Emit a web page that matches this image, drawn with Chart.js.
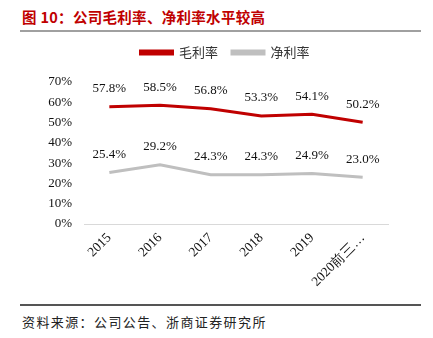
<!DOCTYPE html>
<html lang="zh">
<head>
<meta charset="UTF-8">
<title>公司毛利率、净利率水平较高</title>
<style>
    body {
        margin: 0;
        width: 433px;
        height: 338px;
        background: #fff;
        position: relative;
        overflow: hidden;
    }
    #title {
        position: absolute;
        left: 22px;
        top: 6px;
        font-family: "Noto Sans CJK SC", sans-serif;
        font-weight: bold;
        font-size: 14.5px;
        letter-spacing: 0.3px;
        color: #c00000;
        white-space: nowrap;
    }
    #rule-top {
        position: absolute;
        left: 20px;
        top: 30px;
        width: 401px;
        height: 2px;
        background: #a0a0a0;
    }
    #chart-box {
        position: absolute;
        left: 0;
        top: 38px;
        width: 433px;
        height: 262px;
    }
    #rule-bottom {
        position: absolute;
        left: 20px;
        top: 304px;
        width: 401px;
        height: 1.5px;
        background: #555;
    }
    #source {
        position: absolute;
        left: 22px;
        top: 312px;
        font-family: "Noto Sans CJK SC", sans-serif;
        font-size: 13px;
        letter-spacing: 1.4px;
        color: #222;
        white-space: nowrap;
    }
</style>
</head>
<body>
<div id="title">图 10：公司毛利率、净利率水平较高</div>
<div id="rule-top"></div>
<div id="chart-box"><canvas id="chart"></canvas></div>
<div id="rule-bottom"></div>
<div id="source">资料来源：公司公告、浙商证券研究所</div>

<script src="https://cdn.jsdelivr.net/npm/chart.js"></script>
<script>
    // 数据
    const years = ['2015', '2016', '2017', '2018', '2019', '2020前三…'];
    const grossMargin = [57.8, 58.5, 56.8, 53.3, 54.1, 50.2];
    const netMargin = [25.4, 29.2, 24.3, 24.3, 24.9, 23.0];
    const yTicks = [0, 10, 20, 30, 40, 50, 60, 70];

    const serif = '"Liberation Serif", "DejaVu Serif", serif';

    // 数据标签
    const valueLabels = {
        id: 'valueLabels',
        afterDatasetsDraw(chart) {
            const c = chart.ctx;
            c.save();
            c.font = '13px ' + serif;
            c.fillStyle = '#111';
            c.textAlign = 'center';
            c.textBaseline = 'middle';
            chart.data.datasets.forEach((ds, i) => {
                chart.getDatasetMeta(i).data.forEach((pt, j) => {
                    c.fillText(ds.data[j].toFixed(1) + '%', pt.x, pt.y - 18);
                });
            });
            c.restore();
        }
    };

    // 图例位置微调
    const legendShift = {
        id: 'legendShift',
        afterLayout(chart) {
            const lg = chart.legend;
            lg.left += 31; lg.right += 31;
            lg.top -= 13; lg.bottom -= 13;
        }
    };

    new Chart(document.getElementById('chart'), {
        type: 'line',
        data: {
            labels: years,
            datasets: [
                {
                    label: '毛利率',
                    data: grossMargin,
                    borderColor: '#c00000',
                    backgroundColor: '#c00000',
                    borderWidth: 3,
                    pointRadius: 0,
                    tension: 0
                },
                {
                    label: '净利率',
                    data: netMargin,
                    borderColor: '#bfbfbf',
                    backgroundColor: '#bfbfbf',
                    borderWidth: 3,
                    pointRadius: 0,
                    tension: 0
                }
            ]
        },
        options: {
            responsive: true,
            maintainAspectRatio: false,
            animation: false,
            layout: { padding: { left: 0, right: 45, top: 7, bottom: 0 } },
            plugins: {
                legend: {
                    position: 'top',
                    labels: {
                        boxWidth: 32,
                        boxHeight: 3,
                        padding: 14,
                        color: '#333',
                        font: { family: '"Noto Sans CJK SC", sans-serif', size: 13 }
                    }
                },
                tooltip: { enabled: false }
            },
            scales: {
                x: {
                    offset: true,
                    grid: { display: false, drawTicks: false },
                    border: { color: '#d9d9d9', width: 1 },
                    ticks: {
                        color: '#111',
                        font: { family: serif, size: 13.5 },
                        maxRotation: 45,
                        minRotation: 45,
                        padding: 6
                    },
                    afterFit(scale) { scale.height = 76; }
                },
                y: {
                    min: 0,
                    max: 70,
                    afterBuildTicks(scale) {
                        scale.ticks = yTicks.map(v => ({ value: v }));
                    },
                    grid: { display: false, drawTicks: false },
                    border: { display: false },
                    ticks: {
                        color: '#111',
                        font: { family: serif, size: 13 },
                        padding: 12,
                        callback: v => v + '%'
                    },
                    afterFit(scale) { scale.width = 84; }
                }
            }
        },
        plugins: [valueLabels, legendShift]
    });
</script>
</body>
</html>
